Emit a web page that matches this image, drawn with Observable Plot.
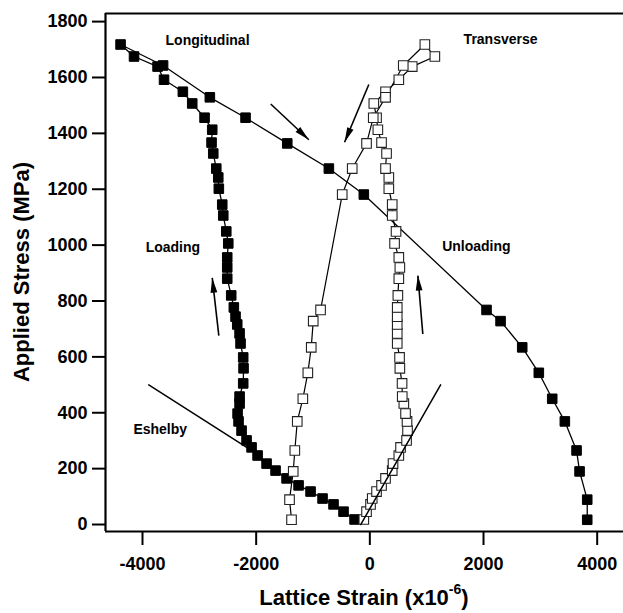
<!DOCTYPE html>
<html>
<head>
<meta charset="utf-8">
<script src="https://cdn.jsdelivr.net/npm/d3@7"></script>
<script src="https://cdn.jsdelivr.net/npm/@observablehq/plot@0.6"></script>
<style>
  html, body { margin: 0; padding: 0; background: #fff; }
  #chart svg { display: block; }
</style>
</head>
<body>
<div id="chart"></div>
<script>
// Applied stress levels (MPa) shared by both reflections
const loadStress = [18, 46, 72, 93, 118, 140, 165, 193, 218, 247, 276, 301, 336, 369, 397, 433, 458, 505, 559, 598,
  648, 684, 716, 744, 777, 820, 880, 920, 956, 1006, 1049, 1106, 1145, 1202, 1242, 1274, 1328, 1367, 1413, 1456,
  1507, 1549, 1592, 1639, 1675, 1718];
const unloadStress = [1643, 1529, 1456, 1364, 1274, 1181, 768, 728, 634, 543, 450, 369, 265, 190, 89, 17];

// Lattice strain (x10^-6), longitudinal reflection
const longLoadStrain = [-269, -463, -639, -832, -1043, -1254, -1465, -1659, -1817, -1975, -2081, -2169, -2257, -2310,
  -2327, -2292, -2292, -2228, -2222, -2228, -2275, -2292, -2333, -2363, -2393, -2439, -2509, -2509, -2509, -2491,
  -2526, -2579, -2597, -2657, -2667, -2702, -2755, -2785, -2773, -2908, -3125, -3290, -3621, -3735, -4149, -4386];
const longUnloadStrain = [-3638, -2815, -2187, -1453, -721, -106, 2053, 2300, 2681, 2973, 3209, 3431, 3637, 3690, 3825, 3825];

// Lattice strain (x10^-6), transverse reflection
const transLoadStrain = [-106, -58, 12, 42, 118, 206, 276, 394, 408, 510, 540, 646, 663, 654, 628, 598, 570, 567, 528,
  523, 482, 482, 482, 482, 482, 493, 510, 528, 510, 435, 461, 394, 394, 334, 334, 276, 294, 206, 141, 118, 70, 276,
  510, 746, 1144, 968];
const transUnloadStrain = [588, 276, 60, -58, -310, -486, -867, -996, -1031, -1091, -1179, -1277, -1320, -1348, -1413, -1378];

// Eshelby model predictions (straight lines)
const eshelbyLongStrain = [-3890, -2160];
const eshelbyLongStress = [500, 275];
const eshelbyTransStrain = [-160, 1245];
const eshelbyTransStress = [0, 500];

// Direction arrows: start and end points
const arrowX1 = [-1744, -18, -2657, 932];
const arrowY1 = [1505, 1575, 676, 682];
const arrowX2 = [-1073, -445, -2773, 845];
const arrowY2 = [1377, 1368, 883, 891];

// Annotations
const labelText = ["Longitudinal", "Transverse", "Loading", "Unloading", "Eshelby"];
const labelX = [-2856, 2300, -3466, 1874, -3688];
const labelY = [1732, 1737, 992, 996, 339];

// Axis settings
const xDomain = [-4651, 4463];
const yDomain = [-25, 1829];
const xTicks = [-4000, -2000, 0, 2000, 4000];
const yTicks = [0, 200, 400, 600, 800, 1000, 1200, 1400, 1600, 1800];

// Each curve is drawn as one path: loading up to the peak, then unloading
const longCurve = [
  ...loadStress.map((s, i) => ({strain: longLoadStrain[i], stress: s})),
  ...unloadStress.map((s, i) => ({strain: longUnloadStrain[i], stress: s}))
];
const transCurve = [
  ...loadStress.map((s, i) => ({strain: transLoadStrain[i], stress: s})),
  ...unloadStress.map((s, i) => ({strain: transUnloadStrain[i], stress: s}))
];
const eshelby = [
  ...eshelbyLongStrain.map((x, i) => ({strain: x, stress: eshelbyLongStress[i], branch: "long"})),
  ...eshelbyTransStrain.map((x, i) => ({strain: x, stress: eshelbyTransStress[i], branch: "trans"}))
];
const arrows = arrowX1.map((x1, i) => ({x1, y1: arrowY1[i], x2: arrowX2[i], y2: arrowY2[i]}));
const labels = labelText.map((t, i) => ({text: t, x: labelX[i], y: labelY[i]}));

// Solid, narrow arrowhead used at the end of the direction arrows
const solidHead = (color, context) => {
  const m = d3.select(context.document.createElementNS(d3.namespaces.svg, "marker"))
    .attr("viewBox", "-16 -4 17 8")
    .attr("markerWidth", 17)
    .attr("markerHeight", 8)
    .attr("markerUnits", "userSpaceOnUse")
    .attr("orient", "auto")
    .attr("overflow", "visible");
  m.append("path").attr("d", "M-15,-3.4L0,0L-15,3.4Z").attr("fill", color).attr("stroke", "none");
  return m.node();
};

const font = "'Liberation Sans', Arial, Helvetica, sans-serif";
const plain = d => String(d);

const chart = Plot.plot({
  width: 623,
  height: 613,
  marginLeft: 105,
  marginTop: 13,
  marginRight: 0,
  marginBottom: 82,
  style: {fontFamily: font, fontSize: "18px", fontWeight: "bold", color: "#000", background: "#fff"},
  x: {domain: xDomain},
  y: {domain: yDomain},
  marks: [
    // axes and frame
    Plot.axisY(yTicks, {tickSize: 13, tickPadding: 5, strokeWidth: 2, tickFormat: plain, label: null}),
    Plot.axisX(xTicks, {tickSize: 14, tickPadding: 12, strokeWidth: 2, tickFormat: plain, label: null}),
    Plot.ruleY([yDomain[1]], {strokeWidth: 2.2}),
    Plot.ruleY([yDomain[0]], {strokeWidth: 2.2}),
    Plot.ruleX([xDomain[0]], {strokeWidth: 2.2}),
    // longitudinal (filled squares)
    Plot.line(longCurve, {x: "strain", y: "stress", stroke: "#000", strokeWidth: 1.3}),
    Plot.dot(longCurve, {x: "strain", y: "stress", symbol: "square", r: 5.4, fill: "#000", stroke: "#000", strokeWidth: 1}),
    // transverse (open squares)
    Plot.line(transCurve, {x: "strain", y: "stress", stroke: "#000", strokeWidth: 1.2}),
    Plot.dot(transCurve, {x: "strain", y: "stress", symbol: "square", r: 5.4, fill: "#fff", stroke: "#222", strokeWidth: 1.1}),
    // Eshelby predictions
    Plot.line(eshelby, {x: "strain", y: "stress", z: "branch", stroke: "#000", strokeWidth: 1.5}),
    // direction arrows
    Plot.link(arrows, {x1: "x1", y1: "y1", x2: "x2", y2: "y2", stroke: "#000", strokeWidth: 1.6, markerEnd: solidHead}),
    // annotations
    Plot.text(labels, {x: "x", y: "y", text: "text", fontSize: 14, fontWeight: "bold", fill: "#000"})
  ]
});

// axis titles
const svg = d3.select(chart);
svg.append("text")
  .attr("transform", "translate(29,272) rotate(-90)")
  .attr("text-anchor", "middle")
  .attr("font-size", 22)
  .attr("font-weight", "bold")
  .attr("fill", "#000")
  .text("Applied Stress (MPa)");
const xt = svg.append("text")
  .attr("x", 364)
  .attr("y", 605)
  .attr("text-anchor", "middle")
  .attr("font-size", 22)
  .attr("font-weight", "bold")
  .attr("fill", "#000");
xt.append("tspan").text("Lattice Strain (x10");
xt.append("tspan").attr("dy", -11).attr("font-size", 14).text("-6");
xt.append("tspan").attr("dy", 11).text(")");

document.getElementById("chart").append(chart);
</script>
</body>
</html>
